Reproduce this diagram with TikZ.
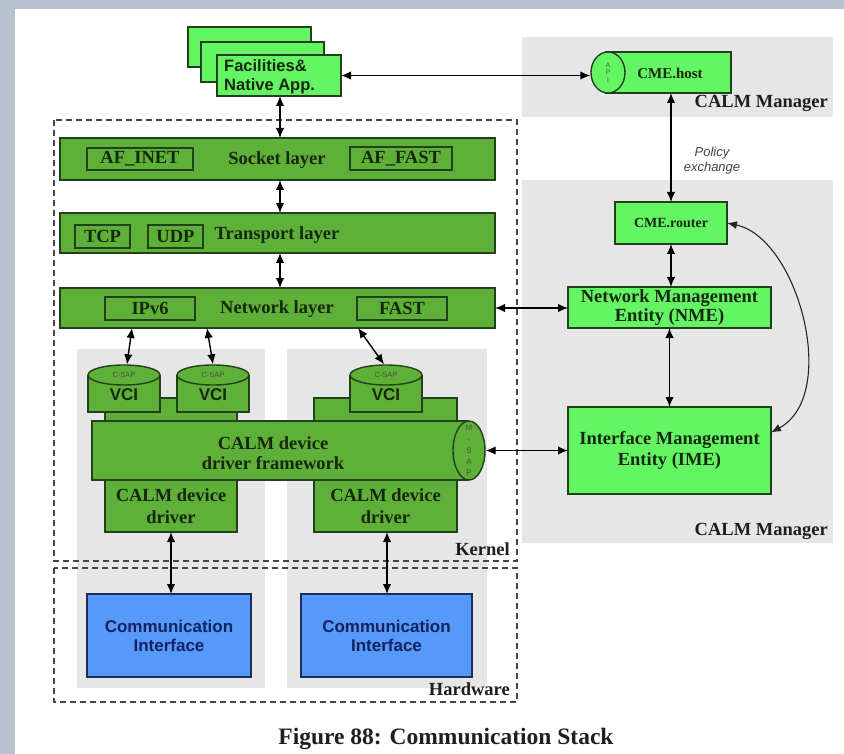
\documentclass[tikz,border=0pt]{standalone}
\usepackage{fontspec}
\setmainfont{Liberation Serif}
\setsansfont{Liberation Sans}
\usetikzlibrary{arrows.meta,shapes.geometric}
\definecolor{strip}{RGB}{183,196,205}
\definecolor{panel}{RGB}{230,230,230}
\definecolor{layergreen}{RGB}{94,176,56}
\definecolor{lightgreen}{RGB}{100,245,100}
\definecolor{edgegreen}{RGB}{35,65,25}
\definecolor{txtdark}{RGB}{22,40,12}
\definecolor{lbldark}{RGB}{30,30,30}
\definecolor{ifblue}{RGB}{85,153,250}
\definecolor{ifedge}{RGB}{30,45,85}
\definecolor{iftext}{RGB}{20,35,95}
\definecolor{dashgray}{RGB}{70,70,70}
\definecolor{policygray}{RGB}{70,70,70}
\begin{document}
\begin{tikzpicture}[x=1pt,y=-1pt,
  box/.style={inner sep=0pt, outer sep=0pt},
  sz/.style 2 args={minimum width=#1pt, minimum height=#2pt},
  layer/.style={box, draw=edgegreen, line width=1.4pt, fill=layergreen},
  inbox/.style={box, draw=edgegreen, line width=1.4pt},
  lgbox/.style={box, draw=edgegreen, line width=1.4pt, fill=lightgreen},
  cibox/.style={box, draw=ifedge, line width=1.4pt, fill=ifblue},
  edge/.style={draw=edgegreen, line width=1.4pt},
  sb/.style={font=\fontsize{18.5}{20.5}\selectfont\bfseries, text=txtdark, inner sep=0pt, align=center},
  plainlbl/.style={font=\fontsize{18.5}{20.5}\selectfont\bfseries, text=lbldark, inner sep=0pt},
  sanslbl/.style={font=\sffamily\fontsize{16.5}{19}\selectfont\bfseries, text=txtdark, inner sep=0pt},
  tinysans/.style={font=\sffamily\fontsize{7.5}{8.5}\selectfont, text=txtdark!80, inner sep=0pt, align=center},
  dashbox/.style={draw=dashgray, line width=1.3pt, dash pattern=on 6pt off 4pt},
  biarrow/.style={line width=1.4pt, black, {Latex[length=10pt,width=8.5pt]}-{Latex[length=10pt,width=8.5pt]}},
  thinarrow/.style={line width=1.1pt, black!85, {Latex[length=10pt,width=8pt]}-{Latex[length=10pt,width=8pt]}}
]
% background
\fill[white] (0,0) rectangle (844,754);
\fill[strip] (0,0) rectangle (15,754);
\fill[strip] (15,0) rectangle (844,9);
\useasboundingbox (0,0) rectangle (844,754);

% grey panels
\fill[panel] (522,37) rectangle (833,117);
\fill[panel] (522,180) rectangle (833,543);
\fill[panel] (77,349) rectangle (265,688);
\fill[panel] (287,349) rectangle (487,688);
\node[plainlbl, anchor=east] (mgr1) at (828,103) {CALM Manager};
\node[plainlbl, anchor=east] (mgr2) at (828,531) {CALM Manager};

% dashed kernel / hardware boxes
\draw[dashbox] (54,120) rectangle (517,561);
\draw[dashbox] (54,568) rectangle (517,702);
\node[plainlbl, anchor=east] (kernel) at (510,549) {Kernel};
\node[plainlbl, anchor=east] (hw) at (510,689) {Hardware};

% facilities stack
\node[lgbox, sz={123}{40}] (fac1) at (249.5,47) {};
\node[lgbox, sz={123}{40}] (fac2) at (262.5,62) {};
\node[lgbox, sz={124}{41}] (fac3) at (279,75.5) {};
\node[sanslbl, anchor=west, align=left] (factxt) at (224,76.5) {Facilities\&\\Native App.};

% socket layer
\node[layer, sz={435}{42}] (socket) at (277.5,159) {};
\node[inbox, sz={106}{22}, sb] (afinet) at (140,159) {AF\_INET};
\node[inbox, sz={102}{23}, sb] (affast) at (401,158.5) {AF\_FAST};
\node[sb] (sockettxt) at (277,160) {Socket layer};

% transport layer
\node[layer, sz={435}{40}] (transport) at (277.5,233) {};
\node[inbox, sz={55}{23}, sb] (tcp) at (102.5,236.5) {TCP};
\node[inbox, sz={55}{23}, sb] (udp) at (175.5,236.5) {UDP};
\node[sb] (transporttxt) at (277,235) {Transport layer};

% network layer
\node[layer, sz={435}{40}] (network) at (277.5,308) {};
\node[inbox, sz={90}{23}, sb] (ipv6) at (150,308.5) {IPv6};
\node[inbox, sz={90}{23}, sb] (fast) at (402,308.5) {FAST};
\node[sb] (networktxt) at (277,309) {Network layer};

% vertical arrows in the stack
\draw[biarrow] ([xshift=1pt]fac3.south) -- ([xshift=1pt]fac3.south |- socket.north);
\draw[biarrow] ([xshift=2.5pt]socket.south) -- ([xshift=2.5pt]transport.north);
\draw[biarrow] ([xshift=2.5pt]transport.south) -- ([xshift=2.5pt]network.north);

% pedestals
\node[layer, sz={132}{23}] (ped1) at (171,409.5) {};
\node[layer, sz={143}{23}] (ped2) at (385.5,409.5) {};

% VCI cylinders
\foreach \n/\cx in {1/124, 2/213, 3/386}{
  \node[box, fill=layergreen, sz={72}{37}] (vci\n) at (\cx,393.5) {};
  \draw[edge] (vci\n.north west) -- (vci\n.south west) -- (vci\n.south east) -- (vci\n.north east);
  \node[ellipse, draw=edgegreen, line width=1.4pt, fill=layergreen, inner sep=0pt, minimum width=72pt, minimum height=20pt, tinysans] (csap\n) at (vci\n.north) {C-SAP};
  \node[font=\sffamily\fontsize{17}{19}\selectfont\bfseries, text=txtdark, inner sep=0pt] (vcitxt\n) at (\cx,395) {VCI};
}

% drivers
\node[layer, sz={132}{52}, sb, font=\fontsize{18.5}{22}\selectfont\bfseries] (drv1) at (171,506) {CALM device\\driver};
\node[layer, sz={143}{52}, sb, font=\fontsize{18.5}{22}\selectfont\bfseries] (drv2) at (385.5,506) {CALM device\\driver};

% framework (horizontal cylinder)
\node[box, fill=layergreen, sz={377}{59}] (fw) at (280.5,450.5) {};
\draw[edge] (fw.north east) -- (fw.north west) -- (fw.south west) -- (fw.south east);
\node[ellipse, draw=edgegreen, line width=1.4pt, fill=layergreen, inner sep=0pt, minimum width=32pt, minimum height=59pt] (msap) at (fw.east) {};
\node[tinysans, font=\sffamily\fontsize{8}{11.2}\selectfont] (msaptxt) at (msap.center) {M\\-\\S\\A\\P};
\node[sb] (fwtxt) at (273,453) {CALM device\\driver framework};

% network -> VCI arrows
\coordinate (n1) at (132,328);
\coordinate (n2) at (207,328);
\coordinate (n3) at (358,328);
\draw[biarrow] (n1) -- ([xshift=3pt]csap1.north);
\draw[biarrow] (n2) -- (csap2.north);
\draw[biarrow] (n3) -- ([xshift=-2pt]csap3.north);

% communication interfaces
\node[cibox, sz={164}{83}, font=\sffamily\fontsize{17}{19}\selectfont\bfseries, text=iftext, align=center] (ci1) at (169,635.5) {Communication\\Interface};
\node[cibox, sz={171}{83}, font=\sffamily\fontsize{17}{19}\selectfont\bfseries, text=iftext, align=center] (ci2) at (386.5,635.5) {Communication\\Interface};
\draw[biarrow] (drv1.south) -- (drv1.south |- ci1.north);
\draw[biarrow] ([xshift=1.5pt]drv2.south) -- ([xshift=1.5pt]drv2.south |- ci2.north);

% CALM manager side
\node[lgbox, sz={125}{41}] (cmehost) at (668.5,72.5) {};
\node[ellipse, draw=edgegreen, line width=1.4pt, fill=lightgreen, inner sep=0pt, minimum width=34pt, minimum height=41pt] (api) at (608,72.5) {};
\node[tinysans, font=\sffamily\fontsize{6.5}{7.5}\selectfont] (apitxt) at (api.center) {A\\P\\I};
\node[sb, font=\fontsize{15}{17}\selectfont\bfseries] (cmehosttxt) at (670,73) {CME.host};

\node[lgbox, sz={112}{42}, sb, font=\fontsize{14}{16}\selectfont\bfseries] (cmerouter) at (671,223) {CME.router};
\node[lgbox, sz={203}{41}, sb, font=\fontsize{18.5}{19}\selectfont\bfseries] (nme) at (669.5,307.5) {Network Management\\Entity (NME)};
\node[lgbox, sz={203}{87}, sb, font=\fontsize{18.5}{21}\selectfont\bfseries] (ime) at (669.5,450.5) {Interface Management\\Entity (IME)};

\node[font=\sffamily\itshape\fontsize{13}{15}\selectfont, text=policygray, inner sep=0pt, align=center] (policy) at (712,160.5) {Policy\\exchange};

\draw[biarrow] (fac3.east) -- (fac3.east -| api.west);
\draw[biarrow] (cmerouter.north |- cmehost.south) -- (cmerouter.north);
\draw[biarrow] (cmerouter.south) -- (cmerouter.south |- nme.north);
\draw[biarrow] (nme.south) -- (nme.south |- ime.north);
\draw[biarrow] (network.east) -- (network.east -| nme.west);
\draw[biarrow] (msap.east) -- (msap.east -| ime.west);
\draw[thinarrow] (cmerouter.east) .. controls (798,238) and (840,395) .. ([yshift=18pt]ime.east);

% caption
\node[font=\fontsize{23.5}{26}\selectfont\bfseries, text=black!88, inner sep=0pt] (caption) at (446,739) {Figure 88: Communication Stack};
\end{tikzpicture}
\end{document}
